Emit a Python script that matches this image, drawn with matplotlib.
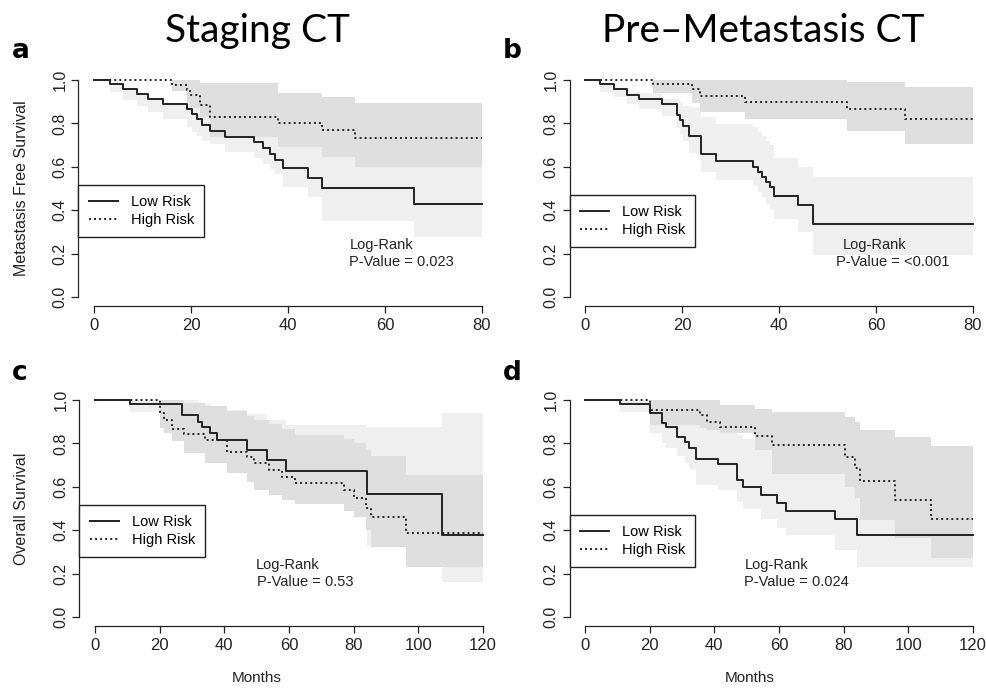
import matplotlib
matplotlib.use('Agg')
import matplotlib.pyplot as plt

plt.rcParams['font.family'] = ['Liberation Sans', 'DejaVu Sans']

# ── Data (months, survival, lower CI, upper CI) ─────────────────────────────
A_LOW_T  = [0, 3.3, 6.0, 8.8, 11.2, 14.3, 19.1, 20.2, 21.2, 22.2, 23.9, 27.0, 33.0, 34.8, 36.2, 37.4, 39.0, 44.2, 47.1, 66.0]
A_LOW_S  = [1.0, 0.982, 0.959, 0.935, 0.912, 0.889, 0.866, 0.842, 0.818, 0.794, 0.766, 0.739, 0.713, 0.686, 0.660, 0.630, 0.593, 0.547, 0.501, 0.429]
A_LOW_LO = [1.0, 0.943, 0.910, 0.882, 0.851, 0.820, 0.782, 0.760, 0.743, 0.720, 0.705, 0.666, 0.640, 0.613, 0.590, 0.567, 0.505, 0.459, 0.352, 0.275]
A_LOW_HI = [1.0, 0.982, 0.959, 0.935, 0.912, 0.889, 0.950, 0.935, 0.920, 0.905, 0.885, 0.860, 0.840, 0.820, 0.800, 0.780, 0.750, 0.720, 0.680, 0.640]

A_HIGH_T  = [0, 16.0, 19.1, 19.8, 21.8, 24.0, 38.0, 47.0, 53.8]
A_HIGH_S  = [1.0, 0.978, 0.955, 0.930, 0.885, 0.831, 0.800, 0.768, 0.733]
A_HIGH_LO = [1.0, 0.950, 0.900, 0.870, 0.830, 0.735, 0.690, 0.644, 0.600]
A_HIGH_HI = [1.0, 1.0, 1.0, 1.0, 0.985, 0.985, 0.940, 0.920, 0.893]

B_LOW_T  = [0, 3.1, 5.9, 8.7, 11.1, 15.8, 19.0, 19.6, 20.3, 21.4, 24.0, 27.0, 34.7, 35.7, 36.4, 37.4, 38.1, 39.0, 44.0, 47.1]
B_LOW_S  = [1.0, 0.980, 0.957, 0.933, 0.911, 0.888, 0.840, 0.816, 0.790, 0.742, 0.659, 0.627, 0.600, 0.578, 0.555, 0.530, 0.507, 0.465, 0.424, 0.335]
B_LOW_LO = [1.0, 0.945, 0.920, 0.890, 0.865, 0.835, 0.780, 0.750, 0.720, 0.665, 0.575, 0.540, 0.510, 0.485, 0.460, 0.430, 0.405, 0.360, 0.300, 0.195]
B_LOW_HI = [1.0, 0.980, 0.957, 0.945, 0.940, 0.912, 0.912, 0.900, 0.880, 0.874, 0.828, 0.797, 0.782, 0.760, 0.740, 0.720, 0.700, 0.640, 0.600, 0.555]

B_HIGH_T  = [0, 14.1, 22.0, 23.8, 33.0, 54.0, 66.0]
B_HIGH_S  = [1.0, 0.980, 0.957, 0.926, 0.898, 0.866, 0.818]
B_HIGH_LO = [1.0, 0.940, 0.892, 0.854, 0.819, 0.765, 0.705]
B_HIGH_HI = [1.0, 1.0, 1.0, 1.0, 1.0, 0.990, 0.968]

C_LOW_T  = [0, 10.9, 26.9, 32.0, 33.1, 35.7, 37.7, 47.0, 53.2, 59.1, 84.0, 107.2]
C_LOW_S  = [1.0, 0.980, 0.931, 0.900, 0.877, 0.849, 0.816, 0.770, 0.723, 0.674, 0.567, 0.378]
C_LOW_LO = [1.0, 0.943, 0.860, 0.820, 0.790, 0.760, 0.720, 0.660, 0.610, 0.550, 0.330, 0.160]
C_LOW_HI = [1.0, 1.0, 1.0, 0.990, 0.980, 0.970, 0.955, 0.935, 0.910, 0.885, 0.877, 0.938]

C_HIGH_T  = [0, 20.2, 21.2, 23.8, 27.4, 34.1, 40.8, 47.0, 49.1, 53.7, 57.9, 62.0, 77.0, 80.1, 83.7, 85.3, 96.1]
C_HIGH_S  = [1.0, 0.940, 0.910, 0.866, 0.843, 0.816, 0.762, 0.735, 0.708, 0.677, 0.647, 0.616, 0.585, 0.547, 0.501, 0.459, 0.389]
C_HIGH_LO = [1.0, 0.870, 0.850, 0.810, 0.755, 0.710, 0.665, 0.620, 0.585, 0.560, 0.540, 0.523, 0.490, 0.462, 0.400, 0.324, 0.232]
C_HIGH_HI = [1.0, 1.0, 1.0, 1.0, 0.985, 0.970, 0.950, 0.925, 0.910, 0.890, 0.865, 0.840, 0.820, 0.800, 0.770, 0.740, 0.655]

D_LOW_T  = [0, 10.8, 20.1, 23.7, 25.0, 28.3, 30.9, 32.3, 34.3, 41.2, 46.9, 48.8, 54.3, 59.3, 62.2, 77.3, 84.0]
D_LOW_S  = [1.0, 0.980, 0.938, 0.892, 0.877, 0.831, 0.808, 0.777, 0.728, 0.703, 0.631, 0.601, 0.562, 0.527, 0.490, 0.450, 0.378]
D_LOW_LO = [1.0, 0.943, 0.850, 0.800, 0.780, 0.740, 0.710, 0.680, 0.607, 0.585, 0.530, 0.500, 0.450, 0.408, 0.378, 0.308, 0.232]
D_LOW_HI = [1.0, 1.0, 1.0, 0.990, 0.980, 0.960, 0.950, 0.930, 0.900, 0.880, 0.840, 0.820, 0.790, 0.760, 0.720, 0.700, 0.660]

D_HIGH_T  = [0, 20.1, 35.6, 37.6, 41.8, 52.6, 57.7, 80.4, 83.5, 85.0, 95.9, 107.0]
D_HIGH_S  = [1.0, 0.954, 0.931, 0.900, 0.877, 0.836, 0.793, 0.739, 0.685, 0.628, 0.539, 0.452]
D_HIGH_LO = [1.0, 0.885, 0.870, 0.860, 0.846, 0.770, 0.660, 0.600, 0.550, 0.447, 0.362, 0.270]
D_HIGH_HI = [1.0, 1.0, 1.0, 1.0, 0.975, 0.960, 0.946, 0.920, 0.900, 0.862, 0.831, 0.790]

FOLLOW_UP = [80, 80, 120, 120]
X_TICKS = [[0, 20, 40, 60, 80], [0, 20, 40, 60, 80],
           [0, 20, 40, 60, 80, 100, 120], [0, 20, 40, 60, 80, 100, 120]]
Y_TICKS = [0.0, 0.2, 0.4, 0.6, 0.8, 1.0]
P_VALUES = ['0.023', '<0.001', '0.53', '0.024']
LETTERS = ['a', 'b', 'c', 'd']

PANELS = [
    ((A_LOW_T, A_LOW_S, A_LOW_LO, A_LOW_HI), (A_HIGH_T, A_HIGH_S, A_HIGH_LO, A_HIGH_HI)),
    ((B_LOW_T, B_LOW_S, B_LOW_LO, B_LOW_HI), (B_HIGH_T, B_HIGH_S, B_HIGH_LO, B_HIGH_HI)),
    ((C_LOW_T, C_LOW_S, C_LOW_LO, C_LOW_HI), (C_HIGH_T, C_HIGH_S, C_HIGH_LO, C_HIGH_HI)),
    ((D_LOW_T, D_LOW_S, D_LOW_LO, D_LOW_HI), (D_HIGH_T, D_HIGH_S, D_HIGH_LO, D_HIGH_HI)),
]

# ── Layout (pixels) ─────────────────────────────────────────────────────────
W, H = 987, 693
AX_LEFT = [78.5, 569.5, 79.5, 569.5]
AX_TOP = [71.3, 71.3, 391.3, 391.3]
AX_W, AX_H = 419, 234.4
LEG_TOP = [0.515, 0.472, 0.515, 0.472]
# Log-Rank text anchors: (x line1, x line2) in months
LR_X = [(52.8, 52.6), (53.1, 51.7), (49.6, 50.1), (49.5, 49.2)]

LIGHT = '#efefef'
DARK = '#dedede'
INK = '#222222'


def ext(t, v, end):
    return list(t) + [end], list(v) + [v[-1]]


fig = plt.figure(figsize=(W / 100, H / 100), dpi=100)
fig.patch.set_facecolor('white')

for i, (low, high) in enumerate(PANELS):
    ax = fig.add_axes([AX_LEFT[i] / W, (H - AX_TOP[i] - AX_H) / H, AX_W / W, AX_H / H])
    end = FOLLOW_UP[i]
    pad = end * 0.04
    ax.set_xlim(-pad, end + pad)
    ax.set_ylim(-0.04, 1.04)

    # confidence bands
    for (t, s, lo, hi), col in ((low, LIGHT), (high, DARK)):
        tt, ll = ext(t, lo, end)
        _, hh = ext(t, hi, end)
        ax.fill_between(tt, ll, hh, step='post', color=col, linewidth=0, zorder=1)

    tt, ss = ext(low[0], low[1], end)
    ax.step(tt, ss, where='post', color=INK, lw=1.4, label='Low Risk', zorder=3)
    tt, ss = ext(high[0], high[1], end)
    ax.step(tt, ss, where='post', color=INK, lw=1.4, ls=(0, (1, 1.6)),
            label='High Risk', zorder=3)

    for sp in ('top', 'right'):
        ax.spines[sp].set_visible(False)
    ax.spines['left'].set_bounds(0, 1)
    ax.spines['bottom'].set_bounds(0, end)
    for sp in ('left', 'bottom'):
        ax.spines[sp].set_linewidth(0.9)
        ax.spines[sp].set_color(INK)

    ax.set_xticks(X_TICKS[i])
    ax.set_xticklabels([str(v) for v in X_TICKS[i]], fontsize=12)
    ax.set_yticks(Y_TICKS)
    ax.set_yticklabels([f'{v:.1f}' for v in Y_TICKS], fontsize=11.5,
                       rotation=90, va='center')
    ax.tick_params(direction='out', length=5, width=0.9, colors=INK, pad=4)
    ax.tick_params(axis='y', pad=3)

    leg = ax.legend(loc='upper left', bbox_to_anchor=(0, LEG_TOP[i]),
                    borderaxespad=0, fontsize=10.5, frameon=True, fancybox=False,
                    edgecolor=INK, framealpha=1, handlelength=2.0,
                    handletextpad=0.9, labelspacing=0.25, borderpad=0.7)
    leg.get_frame().set_linewidth(1.0)

    x1, x2 = LR_X[i]
    ax.text(x1, 0.24, 'Log-Rank', fontsize=10.5, ha='left', va='center', color=INK)
    ax.text(x2, 0.163, f'P-Value = {P_VALUES[i]}', fontsize=10.5,
            ha='left', va='center', color=INK)

    lx = 12 / W if i % 2 == 0 else 503 / W
    ly = (H - 58) / H if i < 2 else (H - 380) / H
    fig.text(lx, ly, LETTERS[i], fontsize=19, fontweight='bold',
             ha='left', va='baseline', family=['DejaVu Sans'])

fig.text(22 / W, 1 - 188.5 / H, 'Metastasis Free Survival', rotation=90,
         ha='center', va='center', fontsize=11.5, color=INK)
fig.text(22 / W, 1 - 508.5 / H, 'Overall Survival', rotation=90,
         ha='center', va='center', fontsize=11.5, color=INK)
fig.text(257 / W, 1 - 678 / H, 'Months', ha='center', va='center',
         fontsize=11, color=INK)
fig.text(750 / W, 1 - 678 / H, 'Months', ha='center', va='center',
         fontsize=11, color=INK)

fig.text(258 / W, 1 - 42 / H, 'Staging CT', ha='center', va='baseline',
         fontsize=28, family=['Lato', 'DejaVu Sans'])
fig.text(763 / W, 1 - 42 / H, 'Pre\u2013Metastasis CT', ha='center', va='baseline',
         fontsize=28, family=['Lato', 'DejaVu Sans'])

fig.savefig('out.png', dpi=100, facecolor='white')
